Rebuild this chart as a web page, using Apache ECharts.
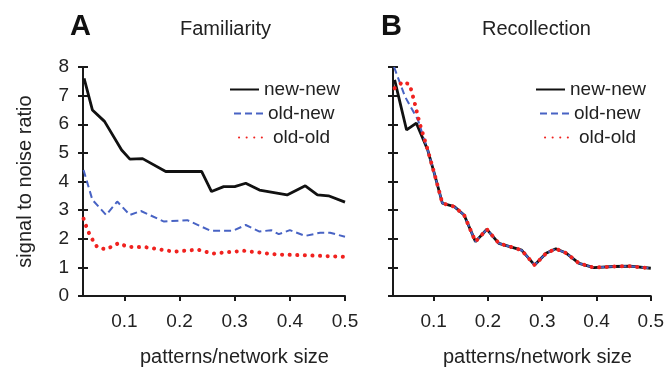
<!DOCTYPE html>
<html>
<head>
<meta charset="utf-8">
<script src="https://cdn.jsdelivr.net/npm/echarts@6/dist/echarts.min.js"></script>
<style>
  html, body { margin: 0; padding: 0; background: #fff; }
  #chart { width: 667px; height: 369px; }
</style>
</head>
<body>
<div id="chart"></div>
<script>
// values, [patterns/network size, signal to noise ratio]
const famNewNew = [[0.027, 7.6], [0.042, 6.5], [0.064, 6.1], [0.095, 5.1], [0.11, 4.78], [0.133, 4.8],
  [0.175, 4.35], [0.24, 4.35], [0.258, 3.65], [0.28, 3.82], [0.3, 3.82], [0.32, 3.94], [0.345, 3.7],
  [0.395, 3.53], [0.428, 3.85], [0.45, 3.53], [0.47, 3.5], [0.5, 3.28]];
const famOldNew = [[0.026, 4.4], [0.042, 3.36], [0.067, 2.83], [0.087, 3.3], [0.11, 2.83], [0.13, 2.97],
  [0.172, 2.6], [0.214, 2.65], [0.256, 2.28], [0.297, 2.28], [0.32, 2.48], [0.345, 2.25], [0.366, 2.3],
  [0.38, 2.16], [0.4, 2.3], [0.428, 2.1], [0.455, 2.21], [0.473, 2.21], [0.5, 2.07]];
const famOldOld = [[0.026, 2.7], [0.032, 2.37], [0.038, 2.1], [0.051, 1.7], [0.067, 1.63], [0.09, 1.85],
  [0.105, 1.72], [0.14, 1.7], [0.19, 1.55], [0.233, 1.62], [0.26, 1.48], [0.316, 1.58], [0.376, 1.45],
  [0.43, 1.42], [0.5, 1.37]];

const recCommon = [[0.089, 5.1], [0.101, 4.29], [0.116, 3.24], [0.138, 3.12], [0.156, 2.83],
  [0.177, 1.9], [0.198, 2.33], [0.22, 1.84], [0.262, 1.6], [0.286, 1.08], [0.307, 1.49], [0.325, 1.65],
  [0.344, 1.5], [0.368, 1.14], [0.395, 0.99], [0.432, 1.03], [0.462, 1.04], [0.5, 0.97]];
const recNewNew = [[0.028, 7.55], [0.05, 5.8], [0.068, 6.04]].concat(recCommon);
const recOldNew = [[0.027, 8.0], [0.047, 6.97], [0.071, 6.15]].concat(recCommon);
const recOldOld = [[0.028, 7.26], [0.044, 7.49], [0.056, 7.38], [0.065, 6.74], [0.074, 6.04]].concat(recCommon);

const seriesNames = ["new-new", "old-new", "old-old"];
const xTicks = [0.1, 0.2, 0.3, 0.4, 0.5];

const FONT = "Liberation Sans";
const textColor = "#222";
const axisColor = "#1a1a1a";
const lineStyles = [
  { color: "#111", width: 2.8, type: "solid" },
  { color: "#4863c4", width: 2, type: [7, 4] },
  { color: "#f0221f", width: 4, type: [0.1, 7.5], cap: "round" }
];

function makeSeries(datas, gridIndex) {
  return datas.map((d, i) => ({
    name: seriesNames[i],
    type: "line",
    xAxisIndex: gridIndex,
    yAxisIndex: gridIndex * 2,
    data: d,
    symbol: "none",
    lineStyle: lineStyles[i],
    itemStyle: { color: lineStyles[i].color },
    z: 3 + i
  }));
}

function xAxisOf(gridIndex) {
  return {
    type: "value",
    gridIndex: gridIndex,
    min: 0.025,
    max: 0.5,
    axisLine: { lineStyle: { color: axisColor, width: 2 } },
    axisTick: { show: true, customValues: xTicks, length: 5, lineStyle: { color: axisColor, width: 2 } },
    axisLabel: { customValues: xTicks, color: textColor, fontFamily: FONT, fontSize: 19, margin: 16 },
    splitLine: { show: false }
  };
}

function yAxesOf(gridIndex, showLabels) {
  const base = {
    type: "value",
    gridIndex: gridIndex,
    min: 0,
    max: 8,
    interval: 1,
    splitLine: { show: false }
  };
  return [
    Object.assign({}, base, {
      axisLine: { show: true, lineStyle: { color: axisColor, width: 2 } },
      axisTick: { show: true, length: 5, lineStyle: { color: axisColor, width: 2 } },
      axisLabel: { show: showLabels, color: textColor, fontFamily: FONT, fontSize: 19, margin: 14 },
      name: showLabels ? "signal to noise ratio" : "",
      nameLocation: "middle",
      nameGap: 48,
      nameTextStyle: { color: textColor, fontFamily: FONT, fontSize: 20 }
    }),
    // second copy only to draw the inner half of the crossing ticks
    Object.assign({}, base, {
      position: "left",
      axisLine: { show: false },
      axisTick: { show: true, inside: true, length: 5, lineStyle: { color: axisColor, width: 2 } },
      axisLabel: { show: false }
    })
  ];
}

// one legend per row so the rows can be staggered like the original
function legendRow(name, left, top) {
  return {
    data: [name], left: left, top: top, itemWidth: 29, itemHeight: 14, padding: 0,
    itemStyle: { opacity: 0 },
    textStyle: { fontFamily: FONT, fontSize: 19, color: textColor }
  };
}

const chart = echarts.init(document.getElementById("chart"));
chart.setOption({
  animation: false,
  backgroundColor: "#fff",
  grid: [
    { left: 83, top: 67, width: 262, height: 229 },
    { left: 393, top: 67, width: 259, height: 229 }
  ],
  title: [
    { text: "A", left: 65, top: 7, textStyle: { fontFamily: FONT, fontSize: 29, fontWeight: "bold", color: "#111" } },
    { text: "Familiarity", left: 175, top: 14, textStyle: { fontFamily: FONT, fontSize: 20, fontWeight: "normal", color: textColor } },
    { text: "B", left: 376, top: 7, textStyle: { fontFamily: FONT, fontSize: 29, fontWeight: "bold", color: "#111" } },
    { text: "Recollection", left: 477, top: 14, textStyle: { fontFamily: FONT, fontSize: 20, fontWeight: "normal", color: textColor } }
  ],
  legend: [
    legendRow("new-new", 229, 80), legendRow("old-new", 233, 104), legendRow("old-old", 238, 128),
    legendRow("new-new", 535, 80), legendRow("old-new", 539, 104), legendRow("old-old", 544, 128)
  ],
  xAxis: [xAxisOf(0), xAxisOf(1)],
  yAxis: yAxesOf(0, true).concat(yAxesOf(1, false)),
  graphic: [
    { type: "text", left: 140, top: 347, style: { text: "patterns/network size", font: "20px " + FONT, fill: textColor } },
    { type: "text", left: 443, top: 347, style: { text: "patterns/network size", font: "20px " + FONT, fill: textColor } }
  ],
  series: makeSeries([famNewNew, famOldNew, famOldOld], 0)
    .concat(makeSeries([recNewNew, recOldNew, recOldOld], 1))
});
</script>
</body>
</html>
